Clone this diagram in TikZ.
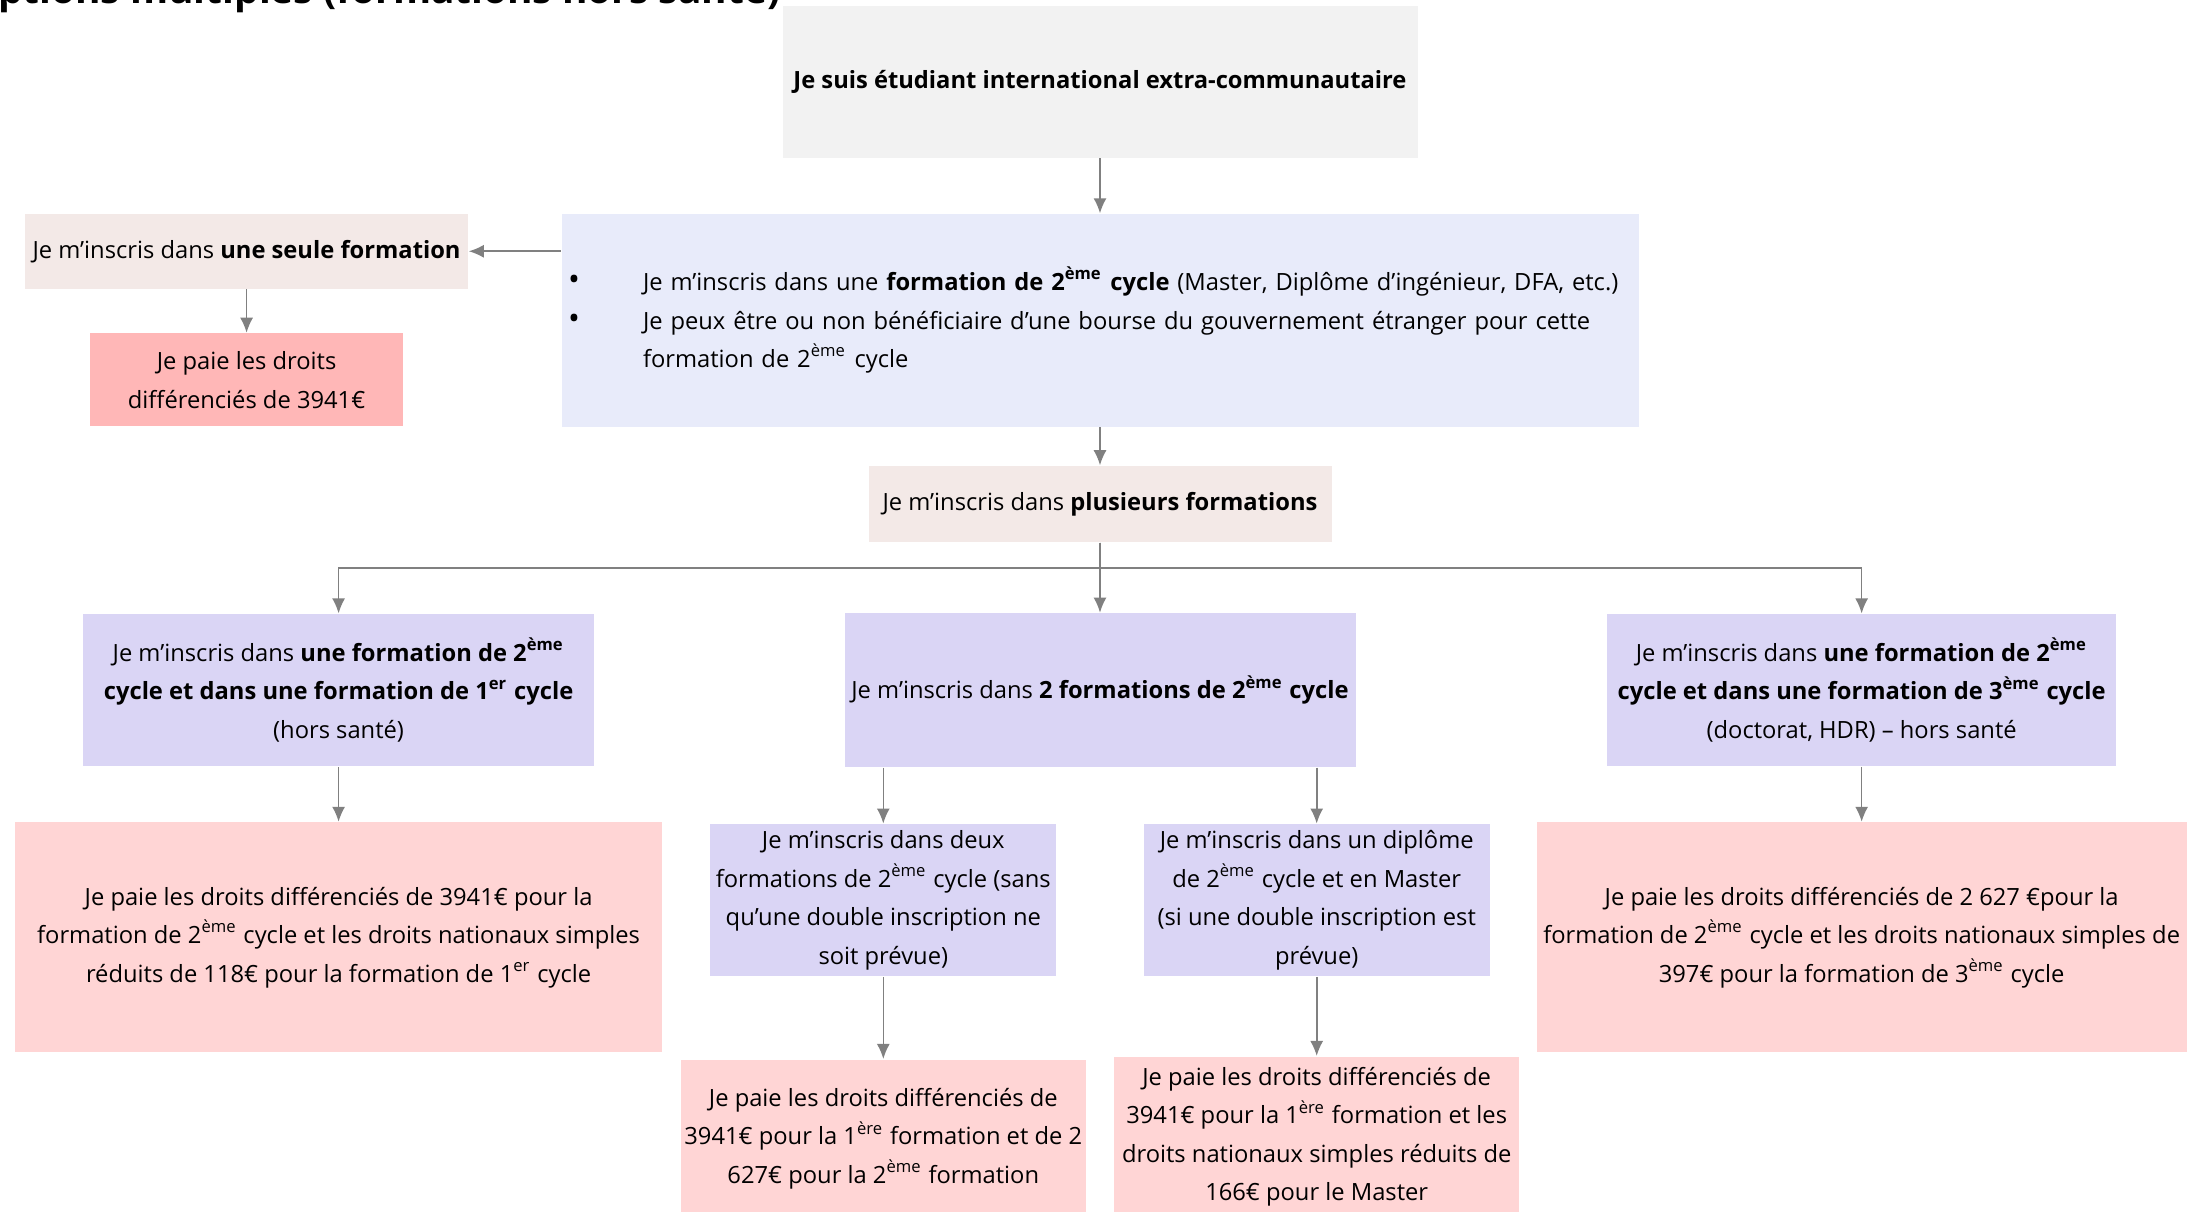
\documentclass[tikz,border=0pt]{standalone}
\usepackage{fontspec}
\setsansfont{Open Sans}
\usepackage{tikz}
\usetikzlibrary{positioning, arrows.meta}
\usepackage{xcolor}
\definecolor{titlegray}{HTML}{F2F2F2}
\definecolor{listblue}{HTML}{E8EBFA}
\definecolor{beige}{HTML}{F3E9E7}
\definecolor{lavender}{HTML}{DAD5F5}
\definecolor{salmon}{HTML}{FFB7B7}
\definecolor{rose}{HTML}{FFD5D5}
\definecolor{arrowgray}{HTML}{808080}
\newcommand{\fsz}{\fontsize{6.75}{10.95}\selectfont}
\newcommand{\eme}{\textsuperscript{ème}}
\newcommand{\puce}{\makebox[0.75cm][l]{\fontsize{9}{9}\selectfont •}}

\begin{document}
\begin{tikzpicture}[%
    >={Latex[length=1.5mm,width=1.3mm]},
    every node/.style={%
      font=\sffamily\fsz,
      text=black,
      text centered,
      align=center,
      inner sep=0pt
    },
    titre/.style={fill=titlegray},
    liste/.style={fill=listblue},
    choix/.style={fill=beige},
    cas/.style={fill=lavender},
    seul/.style={fill=salmon},
    droits/.style={fill=rose},
    fleche/.style={->,draw=arrowgray,line width=0.45pt}
  ]

  \useasboundingbox (0,0) rectangle (22.07,-12.11);

  % Heading, cut by the top edge
  \node[font=\sffamily\bfseries\fontsize{11.05}{12}\selectfont, anchor=base east]
    (h0) at (7.81,-0.035)
    {ptions multiples (formations hors santé)};

  \node[titre, minimum width=6.35cm, minimum height=1.52cm]
    (q0) at (11.00,-0.816)
    {\bfseries Je suis étudiant international extra-communautaire};
  \node[liste, minimum width=10.77cm, minimum height=2.125cm, below=0.55cm of q0,
    text width=10.64cm, align=left]
    (q1)
    {\puce Je m’inscris dans une \textbf{formation de 2\eme{} cycle} (Master, Diplôme d’ingénieur, DFA, etc.)\\
     \puce Je peux être ou non bénéficiaire d’une bourse du gouvernement étranger pour cette\\
     \hspace*{0.75cm}formation de 2\eme{} cycle};

  \node[choix, minimum width=4.43cm, minimum height=0.745cm,
    left=0.92cm of q1.north west, anchor=north east]
    (c1)
    {Je m’inscris dans \textbf{une seule formation}};
  \node[seul, minimum width=3.125cm, minimum height=0.93cm, below=0.435cm of c1]
    (p1)
    {Je paie les droits\\différenciés de 3941€};
  \node[choix, minimum width=4.63cm, minimum height=0.76cm, below=0.38cm of q1]
    (c2)
    {Je m’inscris dans \textbf{plusieurs formations}};

  % Second level
  \node[cas, minimum width=5.11cm, minimum height=1.535cm, below=0.70cm of c2]
    (f2)
    {Je m’inscris dans \textbf{2 formations de 2\eme{} cycle}};
  \node[cas, minimum width=5.11cm, minimum height=1.52cm, left=2.49cm of f2]
    (f1)
    {Je m’inscris dans \textbf{une formation de 2\eme}\\
     \textbf{cycle et dans une formation de 1\textsuperscript{er} cycle}\\
     (hors santé)};
  \node[cas, minimum width=5.095cm, minimum height=1.52cm, right=2.5cm of f2]
    (f3)
    {Je m’inscris dans \textbf{une formation de 2\eme}\\
     \textbf{cycle et dans une formation de 3\eme{} cycle}\\
     (doctorat, HDR) – hors santé};

  % Third level
  \node[droits, minimum width=6.475cm, minimum height=2.296cm, below=0.55cm of f1]
    (d1)
    {Je paie les droits différenciés de 3941€ pour la\\
     formation de 2\eme{} cycle et les droits nationaux simples\\
     réduits de 118€ pour la formation de 1\textsuperscript{er} cycle};
  \node[cas, minimum width=3.46cm, minimum height=1.52cm,
    below=0.56cm of f2.south, anchor=north east, xshift=-0.43cm]
    (e1)
    {Je m’inscris dans deux\\
     formations de 2\eme{} cycle (sans\\
     qu’une double inscription ne\\
     soit prévue)};
  \node[cas, minimum width=3.46cm, minimum height=1.52cm,
    below=0.56cm of f2.south, anchor=north west, xshift=0.43cm]
    (e2)
    {Je m’inscris dans un diplôme\\
     de 2\eme{} cycle et en Master\\
     (si une double inscription est\\
     prévue)};
  \node[droits, minimum width=6.5cm, minimum height=2.296cm, below=0.55cm of f3]
    (d4)
    {Je paie les droits différenciés de 2 627 €pour la\\
     formation de 2\eme{} cycle et les droits nationaux simples de\\
     397€ pour la formation de 3\eme{} cycle};
  \node[droits, minimum width=4.056cm, minimum height=1.58cm, below=0.82cm of e1]
    (d2)
    {Je paie les droits différenciés de\\
     3941€ pour la 1\textsuperscript{ère} formation et de 2\\
     627€ pour la 2\eme{} formation};
  \node[droits, minimum width=4.054cm, minimum height=1.6cm, below=0.79cm of e2]
    (d3)
    {Je paie les droits différenciés de\\
     3941€ pour la 1\textsuperscript{ère} formation et les\\
     droits nationaux simples réduits de\\
     166€ pour le Master};

  % Arrows
  \draw[fleche] (q0) -- (q1);
  \draw[fleche] (c1.east -| q1.west) -- (c1.east);
  \draw[fleche] (c1) -- (p1);
  \draw[fleche] (q1) -- (c2);
  \draw[fleche] (c2) -- (f2);
  \draw[fleche] (c2.south) -- ++(0,-0.254) -| (f1.north);
  \draw[fleche] (c2.south) -- ++(0,-0.254) -| (f3.north);
  \draw[fleche] (f1) -- (d1);
  \draw[fleche] (f2.south -| e1.north) -- (e1.north);
  \draw[fleche] (f2.south -| e2.north) -- (e2.north);
  \draw[fleche] (f3) -- (d4);
  \draw[fleche] (e1) -- (d2);
  \draw[fleche] (e2) -- (d3);

\end{tikzpicture}
\end{document}
